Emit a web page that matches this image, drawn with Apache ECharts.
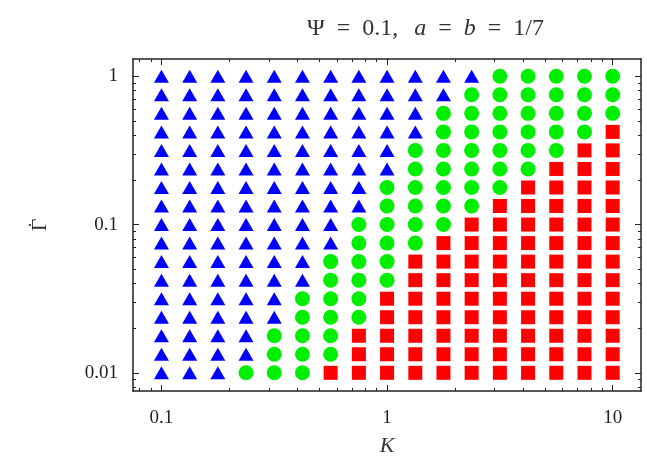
<!DOCTYPE html>
<html>
<head>
<meta charset="utf-8">
<script src="https://cdn.jsdelivr.net/npm/echarts@6/dist/echarts.min.js"></script>
<style>
  html, body { margin: 0; padding: 0; background: #fff; }
  #chart { width: 647px; height: 462px; }
</style>
</head>
<body>
<div id="chart"></div>
<script>
// grid of sampled parameters (8 per decade)
const kappa = [0.1, 0.1334, 0.1778, 0.2371, 0.3162, 0.4217, 0.5623, 0.7499, 1,
  1.334, 1.778, 2.371, 3.162, 4.217, 5.623, 7.499, 10]
const gammaDot = [0.01, 0.01334, 0.01778, 0.02371, 0.03162, 0.04217, 0.05623, 0.07499, 0.1,
  0.1334, 0.1778, 0.2371, 0.3162, 0.4217, 0.5623, 0.7499, 1]

// for each kappa column: highest gammaDot row that is a square / a circle (-1 = none)
const squareTop = [-1, -1, -1, -1, -1, -1, 0, 2, 4, 6, 7, 8, 9, 10, 11, 12, 13]
const circleTop = [-1, -1, -1, 0, 2, 4, 6, 8, 10, 12, 14, 15, 16, 16, 16, 16, 16]

const xMajor = [0.1, 1, 10]
const xMinor = [0.08, 0.09, 0.2, 0.3, 0.4, 0.5, 0.6, 0.7, 0.8, 0.9, 2, 3, 4, 5, 6, 7, 8, 9]
const yMajor = [0.01, 0.1, 1]
const yMinor = [0.008, 0.009, 0.02, 0.03, 0.04, 0.05, 0.06, 0.07, 0.08, 0.09,
  0.2, 0.3, 0.4, 0.5, 0.6, 0.7, 0.8, 0.9]

const squares = []
const circles = []
const triangles = []
kappa.forEach((k, i) => {
  gammaDot.forEach((g, j) => {
    if (j <= squareTop[i]) squares.push([k, g])
    else if (j <= circleTop[i]) circles.push([k, g])
    else triangles.push([k, g])
  })
})

const xRange = { min: 0.0748, max: 13.35 }
const yRange = { min: 0.00754, max: 1.308 }
const lineColor = '#222'
const serif = 'Liberation Serif'
const fmt = v => String(+Number(v).toPrecision(3))

function axisOf(range, position, ticks, len, labelMargin, extra) {
  return Object.assign({
    type: 'log',
    position,
    ...range,
    axisLine: { show: len > 4, lineStyle: { color: lineColor, width: 1.5 } },
    axisTick: { show: true, inside: true, length: len, customValues: ticks, lineStyle: { color: lineColor, width: 1 } },
    axisLabel: labelMargin
      ? { show: true, customValues: ticks, formatter: fmt, color: lineColor, fontFamily: serif, fontSize: 19, margin: labelMargin }
      : { show: false },
    splitLine: { show: false },
    minorTick: { show: false }
  }, extra || {})
}

const titleStyle = { fontFamily: serif, fontSize: 24, fontWeight: 'normal', color: '#333' }

const chart = echarts.init(document.getElementById('chart'))
chart.setOption({
  animation: false,
  backgroundColor: '#fff',
  title: {
    text: '{n|Ψ}{eq|=}{n|0.1,}{ia|a}{eq|=}{i|b}{eq|=}{n|1/7}',
    left: 302,
    top: 12,
    textStyle: {
      fontWeight: 'normal',
      rich: {
        n: titleStyle,
        eq: Object.assign({}, titleStyle, { padding: [0, 12] }),
        i: Object.assign({}, titleStyle, { fontStyle: 'italic' }),
        ia: Object.assign({}, titleStyle, { fontStyle: 'italic', padding: [0, 0, 0, 16] })
      }
    }
  },
  grid: { left: 133, top: 59, right: 6, bottom: 69, containLabel: false },
  xAxis: [
    axisOf(xRange, 'bottom', xMajor, 6, 18, {
      name: 'K',
      nameLocation: 'middle',
      nameGap: 44,
      nameTextStyle: { fontFamily: serif, fontStyle: 'italic', fontSize: 22, color: '#333' }
    }),
    axisOf(xRange, 'bottom', xMinor, 3, 0),
    axisOf(xRange, 'top', xMajor, 6, 0),
    axisOf(xRange, 'top', xMinor, 3, 0)
  ],
  yAxis: [
    axisOf(yRange, 'left', yMajor, 6, 15, {
      name: '{d|.}\n{g|Γ}',
      nameLocation: 'middle',
      nameRotate: 90,
      nameGap: 82,
      nameTextStyle: {
        rich: {
          d: { fontFamily: serif, fontSize: 18, color: '#333', lineHeight: 6, align: 'center' },
          g: { fontFamily: serif, fontSize: 22, color: '#333', lineHeight: 22, align: 'center' }
        }
      }
    }),
    axisOf(yRange, 'left', yMinor, 3, 0),
    axisOf(yRange, 'right', yMajor, 6, 0),
    axisOf(yRange, 'right', yMinor, 3, 0)
  ],
  series: [
    {
      type: 'scatter', xAxisIndex: 0, yAxisIndex: 0,
      symbol: 'triangle', symbolSize: [15, 13],
      itemStyle: { color: '#0000ff', opacity: 1 },
      data: triangles
    },
    {
      type: 'scatter', xAxisIndex: 0, yAxisIndex: 0,
      symbol: 'circle', symbolSize: 15,
      itemStyle: { color: '#00ee00', opacity: 1 },
      data: circles
    },
    {
      type: 'scatter', xAxisIndex: 0, yAxisIndex: 0,
      symbol: 'rect', symbolSize: 14,
      itemStyle: { color: '#ff0000', opacity: 1 },
      data: squares
    }
  ]
})
</script>
</body>
</html>
